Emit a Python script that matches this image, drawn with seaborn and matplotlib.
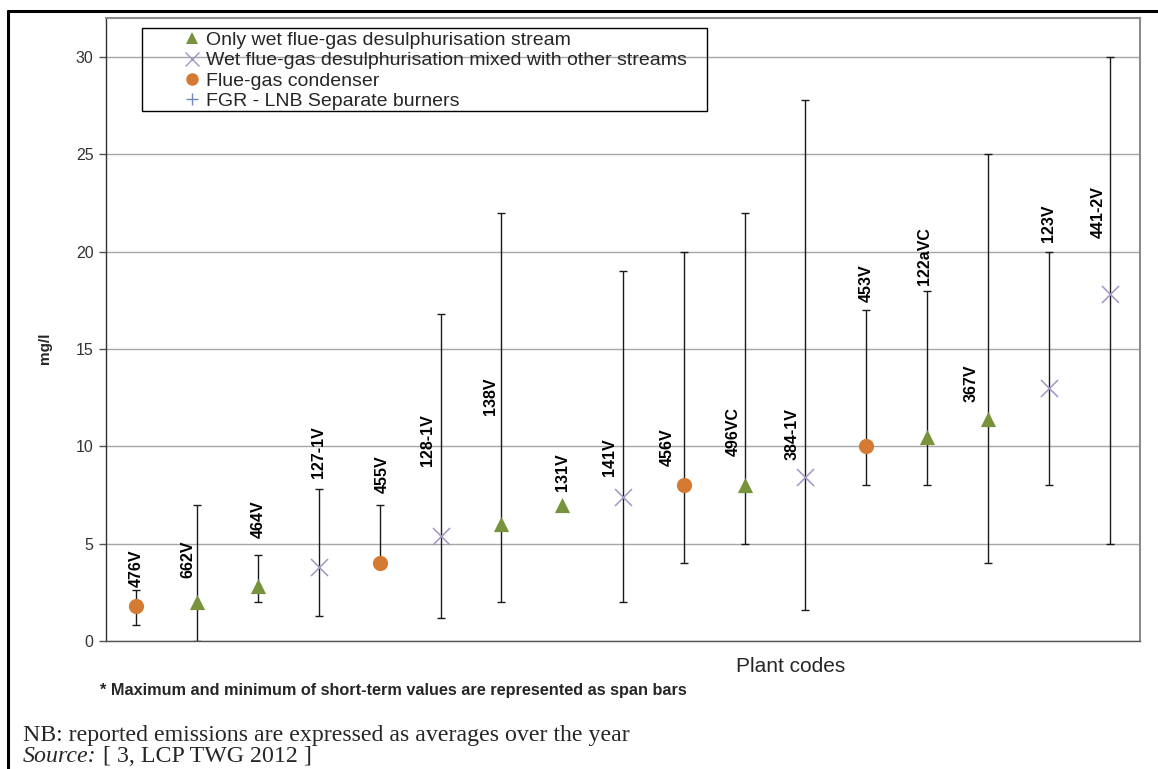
import matplotlib
matplotlib.use("Agg")
import matplotlib.pyplot as plt
import seaborn as sns
import numpy as np
import pandas as pd
from matplotlib.lines import Line2D
from matplotlib.patches import Rectangle

# plant codes, ordered as in the chart
codes = ["476V", "662V", "464V", "127-1V", "455V", "128-1V", "138V", "131V", "141V",
         "456V", "496VC", "384-1V", "453V", "122aVC", "367V", "123V", "441-2V"]
WFGD = "Only wet flue-gas desulphurisation stream"
MIX = "Wet flue-gas desulphurisation mixed with other streams"
FGC = "Flue-gas condenser"
FGR = "FGR - LNB Separate burners"
stream = [FGC, WFGD, WFGD, MIX, FGC, MIX, WFGD, WFGD, MIX,
          FGC, WFGD, MIX, FGC, WFGD, WFGD, MIX, MIX]
# yearly average, short-term min / max (mg/l)
avg = [1.8, 2.0, 2.8, 3.8, 4.0, 5.4, 6.0, 7.0, 7.4, 8.0, 8.0, 8.4, 10.0, 10.5, 11.4, 13.0, 17.8]
short_min = [0.8, 0.0, 2.0, 1.3, 4.0, 1.2, 2.0, np.nan, 2.0, 4.0, 5.0, 1.6, 8.0, 8.0, 4.0, 8.0, 5.0]
short_max = [2.6, 7.0, 4.4, 7.8, 7.0, 16.8, 22.0, np.nan, 19.0, 20.0, 22.0, 27.8, 17.0, 18.0, 25.0, 20.0, 30.0]

# where each code label sits (shift in category units, start height in mg/l)
label_dx = [0.0, -0.15, 0.0, 0.0, 0.05, -0.22, -0.18, 0.0, -0.22,
            -0.28, -0.18, -0.22, 0.0, -0.05, -0.28, 0.0, -0.18]
label_y = [2.75, 3.25, 5.3, 8.35, 7.6, 9.0, 11.6, 7.7, 8.45,
           8.97, 9.5, 9.3, 17.4, 18.3, 12.3, 20.5, 20.7]

df = pd.DataFrame({"code": codes, "stream": stream, "avg": avg,
                   "lo": short_min, "hi": short_max})

colors = {WFGD: "#77933C", MIX: "#A394C4", FGC: "#D47A33", FGR: "#6F86BD"}
markers = {WFGD: "^", MIX: "x", FGC: "o", FGR: "+"}
sizes = {WFGD: 120, MIX: 150, FGC: 120, FGR: 120}

sns.set_theme(style="white")
plt.rcParams["font.family"] = ["Liberation Sans", "DejaVu Sans"]

W, H = 1158, 769
fig = plt.figure(figsize=(W / 100, H / 100), dpi=100)
ax = fig.add_axes([106 / W, 1 - 641 / H, (1140 - 106) / W, (641 - 18) / H])

pos = np.arange(len(df))
bars = df["lo"].notna().to_numpy()
ax.errorbar(pos[bars], df["avg"][bars],
            yerr=[(df["avg"] - df["lo"])[bars], (df["hi"] - df["avg"])[bars]],
            fmt="none", ecolor="#1a1a1a", elinewidth=1, capsize=3, capthick=1, zorder=2)

for kind in [WFGD, MIX, FGC]:
    sub = df[df["stream"] == kind]
    sns.scatterplot(x=sub.index.to_numpy(), y=sub["avg"], ax=ax, color=colors[kind],
                    marker=markers[kind], s=sizes[kind],
                    linewidth=1.1 if kind == MIX else 0, edgecolor=colors[kind],
                    zorder=3, legend=False)

for i, code in enumerate(codes):
    ax.text(i + label_dx[i], label_y[i], code, rotation=90, ha="center", va="bottom",
            fontsize=11.5, fontweight="bold", color="black")

ax.set_xlim(-0.5, len(codes) - 0.5)
ax.set_ylim(0, 32)
ax.set_yticks(range(0, 31, 5))
ax.set_xticks([])
ax.tick_params(axis="y", direction="out", length=5, width=1, color="#555555",
               labelsize=11.5, labelcolor="#333333", left=True, pad=4)
ax.yaxis.grid(True, color="#a6a6a6", linewidth=1)
ax.set_axisbelow(True)
for side in ["top", "right"]:
    ax.spines[side].set_color("#8c8c8c")
    ax.spines[side].set_linewidth(1.5)
ax.spines["left"].set_color("#333333")
ax.spines["bottom"].set_color("#555555")
ax.spines["left"].set_linewidth(1)
ax.spines["bottom"].set_linewidth(1)
ax.set_xlabel("")
ax.set_ylabel("mg/l", fontsize=11, fontweight="bold")
ax.yaxis.set_label_coords(-0.052, 0.47)

# legend: entries without frame, box drawn separately to match the original size
handles = [Line2D([], [], linestyle="none", marker=markers[k], color=colors[k],
                  markersize=9 if k != MIX else 10, markeredgewidth=1 if k in (MIX, FGR) else 0)
           for k in [WFGD, MIX, FGC, FGR]]
fig.legend(handles, [WFGD, MIX, FGC, FGR], loc="upper left",
           bbox_to_anchor=(180 / W, 1 - 29.5 / H), frameon=False, fontsize=14,
           labelspacing=0.14, handletextpad=0.25, handlelength=1.0, borderpad=0.1,
           borderaxespad=0)
fig.add_artist(Rectangle((142 / W, 1 - 111 / H), (707 - 142) / W, (111 - 28) / H,
                         transform=fig.transFigure, fill=False, edgecolor="black",
                         linewidth=1, zorder=5))

fig.text(791 / W, 1 - 667 / H, "Plant codes", ha="center", va="center", fontsize=15)
fig.text(100 / W, 1 - 690 / H,
         "* Maximum and minimum of short-term values are represented as span bars",
         ha="left", va="center", fontsize=11.7, fontweight="bold")
fig.text(23 / W, 1 - 735 / H, "NB: reported emissions are expressed as averages over the year",
         ha="left", va="center", fontsize=17.2, family=["Liberation Serif"])
src = fig.text(23 / W, 1 - 757 / H, "Source:", ha="left", va="center", fontsize=17.2,
               style="italic", family=["Liberation Serif"])
renderer = fig.canvas.get_renderer()
src_end = src.get_window_extent(renderer).x1
fig.text((src_end + 6) / W, 1 - 757 / H, "[ 3, LCP TWG 2012 ]", ha="left", va="center",
         fontsize=17.2, family=["Liberation Serif"])

# outer frame of the figure box
fig.add_artist(Line2D([8 / W, 1.0], [1 - 11 / H] * 2, color="black", linewidth=2.2))
fig.add_artist(Line2D([8 / W] * 2, [0.0, 1 - 11 / H], color="black", linewidth=2.2))

fig.savefig("out.png", dpi=100)
plt.close(fig)
